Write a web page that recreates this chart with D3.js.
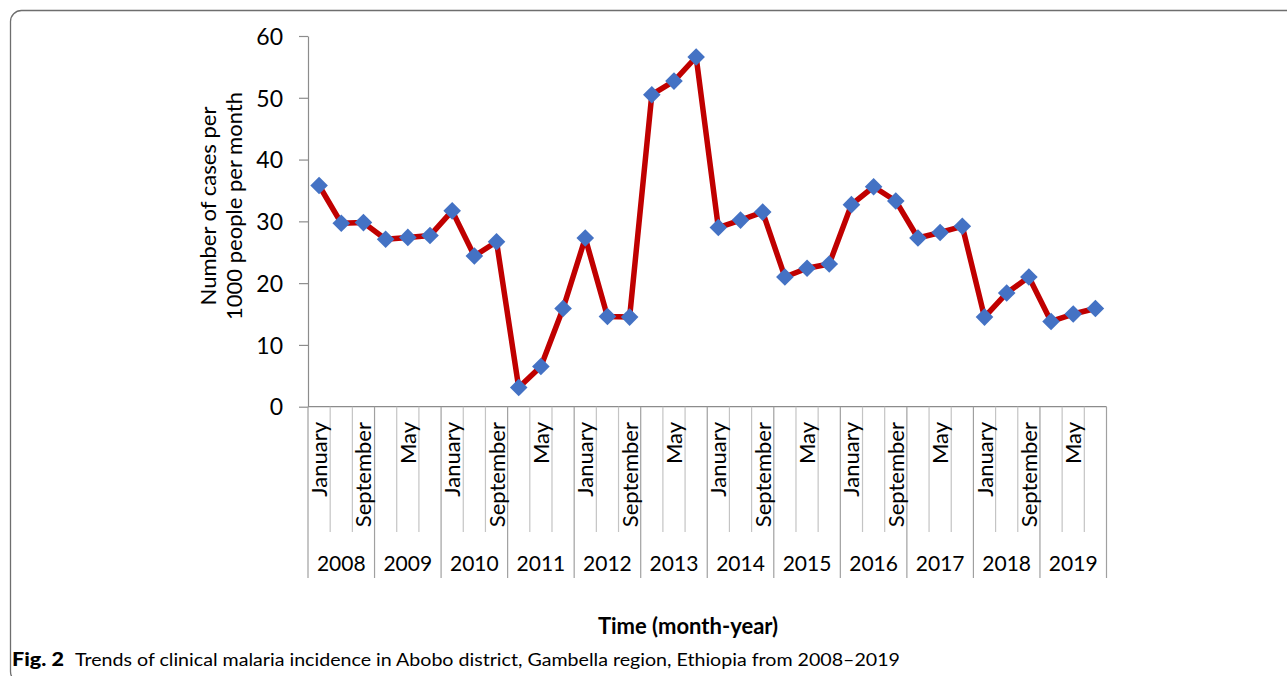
<!DOCTYPE html>
<html>
<head>
<meta charset="utf-8">
<script src="https://cdn.jsdelivr.net/npm/d3@7"></script>
<style>
  html, body { margin: 0; padding: 0; background: #fff; }
  svg { display: block; }
  text { font-family: Lato, "Open Sans", sans-serif; fill: #000; }
</style>
</head>
<body>
<svg id="chart" width="1287" height="676"></svg>
<script>
// ---- data ----
const years = ["2008","2009","2010","2011","2012","2013","2014","2015","2016","2017","2018","2019"];
const months = ["January","May","September"];
const incidence = [35.8, 29.7, 29.8, 27.1, 27.4, 27.7, 31.7, 24.4, 26.7, 3.1, 6.5, 15.9,
                   27.3, 14.6, 14.5, 50.5, 52.7, 56.6, 29.0, 30.2, 31.5, 21.0, 22.4, 23.1,
                   32.7, 35.6, 33.3, 27.3, 28.2, 29.2, 14.5, 18.4, 21.0, 13.8, 15.0, 15.9];
const yTicks = [0, 10, 20, 30, 40, 50, 60];
const yTitleLines = ["Number of cases per", "1000 people per month"];
const xTitle = "Time (month-year)";
const captionBold = "Fig. 2";
const captionText = "Trends of clinical malaria incidence in Abobo district, Gambella region, Ethiopia from 2008\u20132019";

const categories = [];
years.forEach(yr => months.forEach(m => categories.push({year: yr, month: m})));
const points = categories.map((c, i) => ({i, year: c.year, month: c.month, value: incidence[i]}));

// ---- layout ----
const svg = d3.select("#chart");
const plotLeft = 308, plotRight = 1106.5, plotTop = 36, plotBottom = 406.7;
const axisColor = "#8c8c8c";

// frame
svg.append("rect")
  .attr("x", 10.5).attr("y", 10.5).attr("width", 1300).attr("height", 672)
  .attr("rx", 11).attr("fill", "none").attr("stroke", "#6e6e6e").attr("stroke-width", 1.3);

const x = d3.scaleBand().domain(d3.range(categories.length)).range([plotLeft, plotRight]).padding(0);
const y = d3.scaleLinear().domain([0, 60]).range([plotBottom, plotTop]);

// y axis
const yAxis = svg.append("g").attr("transform", `translate(${plotLeft},0)`)
  .call(d3.axisLeft(y).tickValues(yTicks).tickSize(9).tickPadding(16).tickSizeOuter(0));
yAxis.select(".domain").attr("stroke", axisColor).attr("stroke-width", 1.2);
yAxis.selectAll(".tick line").attr("stroke", axisColor).attr("stroke-width", 1.2);
yAxis.selectAll(".tick text").attr("font-size", 23).attr("fill", "#000")
  .style("font-family", "Lato, sans-serif").attr("dy", "0.36em");

// y title
const yt = svg.append("text")
  .attr("transform", `translate(218,206) rotate(-90)`)
  .attr("text-anchor", "middle").attr("font-size", 22);
yTitleLines.forEach((l, k) => yt.append("tspan").attr("x", 0).attr("dy", k === 0 ? "-0.1em" : "1.2em").text(l));

// x axis
const xg = svg.append("g");
xg.append("line").attr("x1", plotLeft).attr("x2", plotRight).attr("y1", plotBottom).attr("y2", plotBottom)
  .attr("stroke", axisColor).attr("stroke-width", 1.2);
const boundaries = d3.range(categories.length + 1);
xg.selectAll("line.tk").data(boundaries).join("line").attr("class", "tk")
  .attr("x1", i => i < categories.length ? x(i) : plotRight)
  .attr("x2", i => i < categories.length ? x(i) : plotRight)
  .attr("y1", plotBottom)
  .attr("y2", i => i % 3 === 0 ? 578 : 532)
  .attr("stroke", i => i % 3 === 0 ? "#a0a0a0" : "#c4c4c4").attr("stroke-width", 1.2);

// month labels (every other category)
xg.selectAll("text.month").data(points.filter(p => p.i % 2 === 0)).join("text").attr("class", "month")
  .attr("transform", p => `translate(${x(p.i) + x.bandwidth() / 2 + 8},422) rotate(-90)`)
  .attr("text-anchor", "end").attr("font-size", 22).text(p => p.month);

// year labels
xg.selectAll("text.year").data(years).join("text").attr("class", "year")
  .attr("x", (yr, k) => (x(k * 3) + (k * 3 + 3 < categories.length ? x(k * 3 + 3) : plotRight)) / 2)
  .attr("y", 571).attr("text-anchor", "middle").attr("font-size", 21).text(yr => yr);

// line
const line = d3.line().x(p => x(p.i) + x.bandwidth() / 2).y(p => y(p.value));
svg.append("path").datum(points).attr("d", line)
  .attr("fill", "none").attr("stroke", "#C00000").attr("stroke-width", 5.5).attr("stroke-linejoin", "round");

// markers
const sym = d3.symbol().type(d3.symbolSquare).size(155);
svg.selectAll("path.mk").data(points).join("path").attr("class", "mk")
  .attr("d", sym)
  .attr("transform", p => `translate(${x(p.i) + x.bandwidth() / 2},${y(p.value)}) rotate(45)`)
  .attr("fill", "#4472C4");

// x title
svg.append("text").attr("x", 688).attr("y", 634).attr("text-anchor", "middle")
  .attr("font-size", 22).attr("font-weight", "bold").text(xTitle);

// caption
svg.append("text").attr("x", 12).attr("y", 666).attr("font-size", 18.5).attr("font-weight", "900")
  .attr("fill", "#1a1a1a").text(captionBold)
  .attr("textLength", 52).attr("lengthAdjust", "spacingAndGlyphs");
svg.append("text").attr("x", 75).attr("y", 666).attr("font-size", 18).attr("fill", "#2a2a2a")
  .attr("textLength", 825).attr("lengthAdjust", "spacingAndGlyphs").text(captionText);
</script>
</body>
</html>
